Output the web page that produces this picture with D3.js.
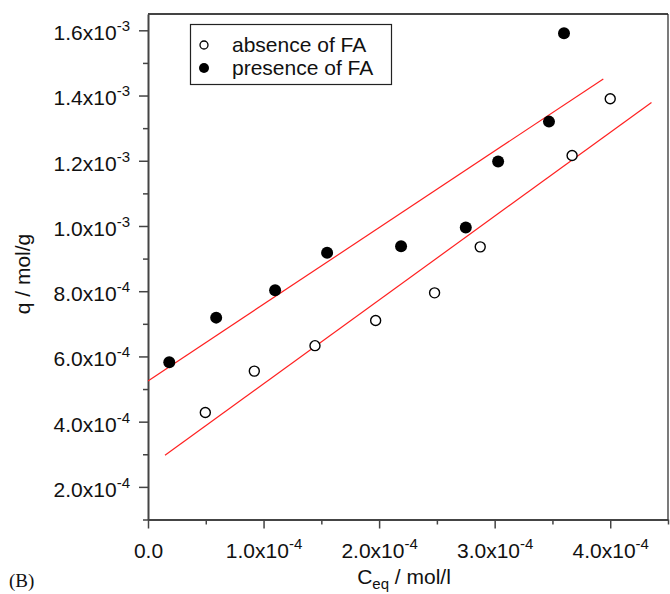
<!DOCTYPE html>
<html>
<head>
    <title>Adsorption isotherm (B)</title>
    <script src="https://d3js.org/d3.v7.min.js"></script>
    <style>
        body {
            margin: 0;
            background-color: white;
        }
        svg text {
            font-family: "Liberation Sans", Arial, sans-serif;
            fill: #111;
        }
        .axis path, .axis line {
            stroke: #444;
        }
    </style>
</head>
<body>
    <div id="chart"></div>
    <script>
        // Data (Ceq in mol/l, q in mol/g)
        const absenceX = [4.96e-5, 9.2e-5, 1.445e-4, 1.97e-4, 2.48e-4, 2.875e-4, 3.67e-4, 4.0e-4];
        const absenceY = [4.28e-4, 5.55e-4, 6.33e-4, 7.10e-4, 7.95e-4, 9.36e-4, 1.216e-3, 1.39e-3];
        const presenceX = [1.84e-5, 5.9e-5, 1.10e-4, 1.55e-4, 2.19e-4, 2.75e-4, 3.03e-4, 3.47e-4, 3.60e-4];
        const presenceY = [5.82e-4, 7.19e-4, 8.03e-4, 9.18e-4, 9.38e-4, 9.95e-4, 1.198e-3, 1.32e-3, 1.591e-3];

        // Linear fits: [intercept, slope, xStart, xEnd]
        const absenceFit = [2.59e-4, 2.57, 1.47e-5, 4.357e-4];
        const presenceFit = [5.25e-4, 2.35, 0, 3.94e-4];

        const xTicks = [0, 1e-4, 2e-4, 3e-4, 4e-4];
        const xTickLabels = ["0.0", "1.0x10|-4", "2.0x10|-4", "3.0x10|-4", "4.0x10|-4"];
        const xMinor = [0.5e-4, 1.5e-4, 2.5e-4, 3.5e-4, 4.5e-4];
        const yTicks = [2e-4, 4e-4, 6e-4, 8e-4, 1.0e-3, 1.2e-3, 1.4e-3, 1.6e-3];
        const yTickLabels = ["2.0x10|-4", "4.0x10|-4", "6.0x10|-4", "8.0x10|-4",
                             "1.0x10|-3", "1.2x10|-3", "1.4x10|-3", "1.6x10|-3"];
        const yMinor = [1e-4, 3e-4, 5e-4, 7e-4, 9e-4, 1.1e-3, 1.3e-3, 1.5e-3];

        const width = 670, height = 594;
        const margin = {left: 148, right: 2, top: 14, bottom: 75};

        const svg = d3.select("#chart")
            .append("svg")
            .attr("width", width)
            .attr("height", height);

        const x = d3.scaleLinear().domain([0, 4.5e-4]).range([margin.left, width - margin.right]);
        const y = d3.scaleLinear().domain([1e-4, 1.65e-3]).range([height - margin.bottom + 0.5, margin.top]);

        // write "mantissa|exponent" as text with a superscript
        function supLabel(sel, labels) {
            sel.each(function(d, i) {
                const t = d3.select(this).text(null);
                const parts = labels[i].split("|");
                t.append("tspan").text(parts[0]);
                if (parts[1]) {
                    t.append("tspan").attr("dy", -9).attr("font-size", 15).text(parts[1]);
                }
            });
        }

        // minor ticks first
        svg.append("g").attr("class", "axis")
            .attr("transform", `translate(0,${y.range()[0]})`)
            .call(d3.axisBottom(x).tickValues(xMinor).tickSize(5).tickFormat(""))
            .call(g => g.select(".domain").remove())
            .selectAll("line").attr("stroke-width", 1.5);
        svg.append("g").attr("class", "axis")
            .attr("transform", `translate(${x.range()[0]},0)`)
            .call(d3.axisLeft(y).tickValues(yMinor).tickSize(5).tickFormat(""))
            .call(g => g.select(".domain").remove())
            .selectAll("line").attr("stroke-width", 1.5);

        // x axis
        const xAxis = svg.append("g").attr("class", "axis")
            .attr("transform", `translate(0,${y.range()[0]})`)
            .call(d3.axisBottom(x).tickValues(xTicks).tickSize(9).tickSizeOuter(0).tickPadding(15));
        xAxis.select(".domain").attr("stroke-width", 2);
        xAxis.selectAll("line").attr("stroke-width", 1.5);
        xAxis.selectAll("text").attr("font-size", 21).attr("fill", "#111").call(supLabel, xTickLabels);

        // y axis
        const yAxis = svg.append("g").attr("class", "axis")
            .attr("transform", `translate(${x.range()[0]},0)`)
            .call(d3.axisLeft(y).tickValues(yTicks).tickSize(9).tickSizeOuter(0).tickPadding(9));
        yAxis.select(".domain").attr("stroke-width", 2);
        yAxis.selectAll("line").attr("stroke-width", 1.5);
        yAxis.selectAll("text").attr("font-size", 21).attr("fill", "#111").attr("dy", "0.45em").call(supLabel, yTickLabels);

        // top and right frame
        svg.append("line")
            .attr("x1", x.range()[0]).attr("x2", x.range()[1])
            .attr("y1", y.range()[1]).attr("y2", y.range()[1])
            .attr("stroke", "#444").attr("stroke-width", 2);
        svg.append("line")
            .attr("x1", x.range()[1]).attr("x2", x.range()[1])
            .attr("y1", y.range()[1]).attr("y2", y.range()[0])
            .attr("stroke", "#222").attr("stroke-width", 1.2);

        // fit lines
        [absenceFit, presenceFit].forEach(f => {
            svg.append("line")
                .attr("x1", x(f[2])).attr("y1", y(f[0] + f[1] * f[2]))
                .attr("x2", x(f[3])).attr("y2", y(f[0] + f[1] * f[3]))
                .attr("stroke", "#ff2020")
                .attr("stroke-width", 1.2);
        });

        // points
        svg.append("g").selectAll("circle")
            .data(d3.zip(absenceX, absenceY))
            .enter().append("circle")
            .attr("cx", d => x(d[0]))
            .attr("cy", d => y(d[1]))
            .attr("r", 5)
            .attr("fill", "white")
            .attr("stroke", "black")
            .attr("stroke-width", 1.4);
        svg.append("g").selectAll("circle")
            .data(d3.zip(presenceX, presenceY))
            .enter().append("circle")
            .attr("cx", d => x(d[0]))
            .attr("cy", d => y(d[1]))
            .attr("r", 6)
            .attr("fill", "black");

        // legend
        const legend = svg.append("g");
        legend.append("rect")
            .attr("x", 190.5).attr("y", 24.5)
            .attr("width", 201).attr("height", 60)
            .attr("fill", "white").attr("stroke", "#222").attr("stroke-width", 1.2);
        legend.append("circle").attr("cx", 204).attr("cy", 45).attr("r", 4)
            .attr("fill", "white").attr("stroke", "black").attr("stroke-width", 1.3);
        legend.append("circle").attr("cx", 204).attr("cy", 68).attr("r", 5)
            .attr("fill", "black");
        legend.append("text").attr("x", 232).attr("y", 52).attr("font-size", 21).text("absence of FA");
        legend.append("text").attr("x", 232).attr("y", 75).attr("font-size", 21).text("presence of FA");

        // axis titles
        const xt = svg.append("text")
            .attr("x", 404).attr("y", 584)
            .attr("text-anchor", "middle")
            .attr("font-size", 21);
        xt.append("tspan").text("C");
        xt.append("tspan").attr("dy", 5).attr("font-size", 15).text("eq");
        xt.append("tspan").attr("dy", -5).text(" / mol/l");

        svg.append("text")
            .attr("transform", "translate(30,274) rotate(-90)")
            .attr("text-anchor", "middle")
            .attr("font-size", 21)
            .text("q / mol/g");

        svg.append("text")
            .attr("x", 9).attr("y", 587)
            .attr("font-size", 19)
            .style("font-family", "'Liberation Serif', 'Times New Roman', serif")
            .text("(B)");
    </script>
</body>
</html>
